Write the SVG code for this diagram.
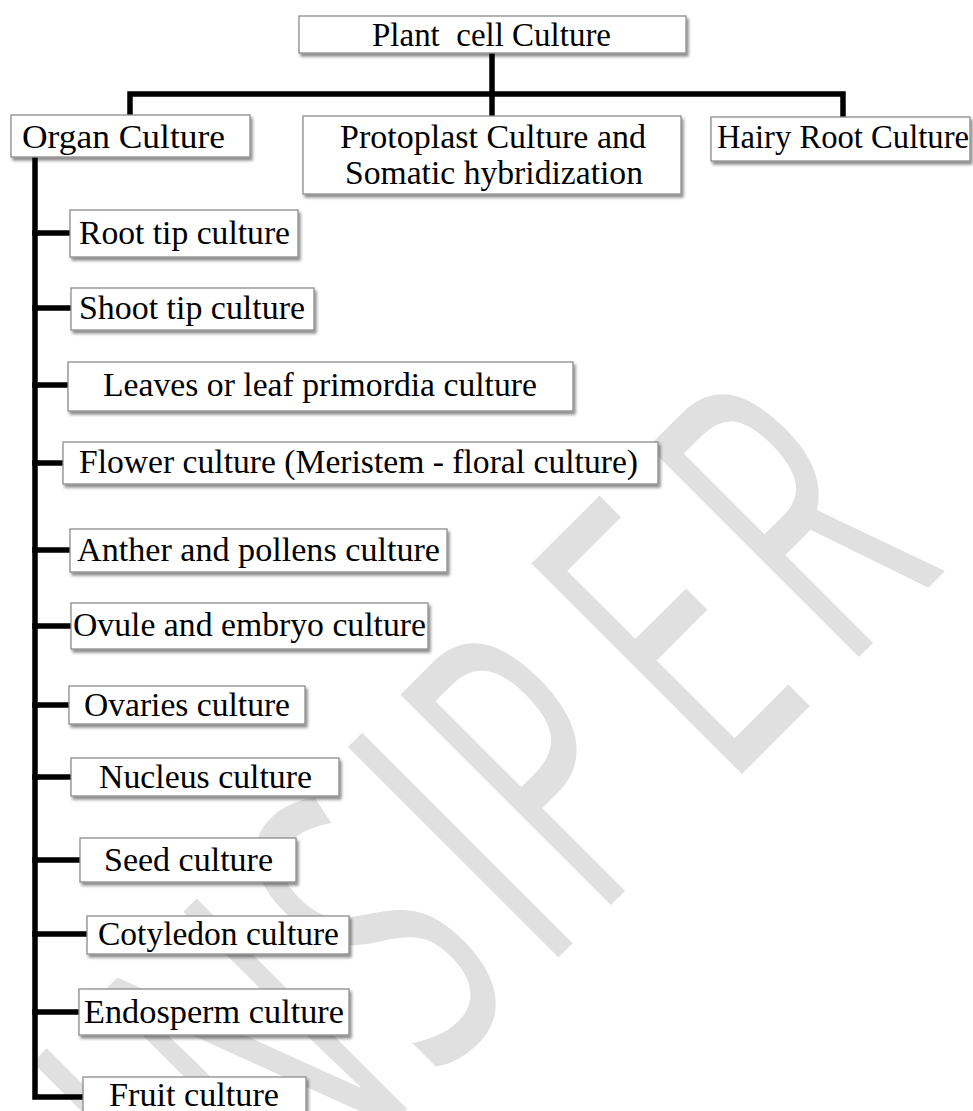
<svg xmlns="http://www.w3.org/2000/svg" width="973" height="1111" viewBox="0 0 973 1111">
  <defs>
    <filter id="shadow" x="-5%" y="-20%" width="115%" height="160%">
      <feDropShadow dx="2" dy="3" stdDeviation="1.6" flood-color="#000" flood-opacity="0.45"/>
    </filter>
  </defs>
  <style>
    .box { fill: #ffffff; stroke: #8c8c8c; stroke-width: 1.3; filter: url(#shadow); }
    .lbl { font-family: "Liberation Serif", "Times New Roman", serif; font-size: 33px; fill: #000; text-anchor: middle; }
    .wire { stroke: #000; stroke-width: 5.5; fill: none; stroke-linecap: square; }
    .mark { font-family: "Open Sans", "DejaVu Sans", sans-serif; font-size: 417px; fill: #e0e0e0; text-anchor: middle; }
  </style>

  <rect width="973" height="1111" fill="#ffffff"/>

  <!-- background watermark -->
  <g id="watermark" transform="rotate(-45)">
    <text class="mark" transform="scale(0.58,1)" x="-1238 -972 -676 -469 -274 36 334" y="1072">INSIPER</text>
  </g>

  <!-- connectors -->
  <g id="connectors">
    <path class="wire" d="M492 53 V94 M130 94 H843 M130 94 V115 M492 94 V116 M843 94 V117"/>
    <path class="wire" d="M35 157 V1097 H83" stroke-linecap="butt"/>
    <path class="wire" d="M35 233 H70 M35 308 H71 M35 385 H68 M35 463 H63 M35 550 H70 M35 626 H71 M35 705 H69 M35 777 H71 M35 860 H80 M35 934 H87 M35 1012 H79" stroke-linecap="butt"/>
  </g>

  <!-- top level -->
  <g id="plant-cell-culture">
    <rect class="box" x="299" y="16" width="387" height="37"/>
    <text class="lbl" x="491.5" y="46" textLength="239" lengthAdjust="spacingAndGlyphs" xml:space="preserve">Plant  cell Culture</text>
  </g>

  <g id="organ-culture">
    <rect class="box" x="11" y="115" width="239" height="42"/>
    <text class="lbl" x="123.5" y="148" textLength="203" lengthAdjust="spacingAndGlyphs">Organ Culture</text>
  </g>

  <g id="protoplast-culture">
    <rect class="box" x="303" y="116" width="378" height="78"/>
    <text class="lbl" x="493" y="148" textLength="306" lengthAdjust="spacingAndGlyphs">Protoplast Culture and</text>
    <text class="lbl" x="494" y="184" textLength="298" lengthAdjust="spacingAndGlyphs">Somatic hybridization</text>
  </g>

  <g id="hairy-root-culture">
    <rect class="box" x="711" y="117" width="259" height="44"/>
    <text class="lbl" x="843" y="148" textLength="252" lengthAdjust="spacingAndGlyphs">Hairy Root Culture</text>
  </g>

  <!-- organ culture types -->
  <g id="root-tip">
    <rect class="box" x="70" y="210" width="228" height="47"/>
    <text class="lbl" x="184.5" y="244" textLength="211" lengthAdjust="spacingAndGlyphs">Root tip culture</text>
  </g>
  <g id="shoot-tip">
    <rect class="box" x="71" y="288" width="243" height="42"/>
    <text class="lbl" x="192" y="319" textLength="226" lengthAdjust="spacingAndGlyphs">Shoot tip culture</text>
  </g>
  <g id="leaves">
    <rect class="box" x="68" y="362" width="505" height="49"/>
    <text class="lbl" x="320" y="396" textLength="434" lengthAdjust="spacingAndGlyphs">Leaves or leaf primordia culture</text>
  </g>
  <g id="flower">
    <rect class="box" x="63" y="442" width="595" height="42"/>
    <text class="lbl" x="358.5" y="473" textLength="559" lengthAdjust="spacingAndGlyphs">Flower culture (Meristem - floral culture)</text>
  </g>
  <g id="anther">
    <rect class="box" x="70" y="529" width="377" height="43"/>
    <text class="lbl" x="258.5" y="561" textLength="363" lengthAdjust="spacingAndGlyphs">Anther and pollens culture</text>
  </g>
  <g id="ovule">
    <rect class="box" x="71" y="603" width="357" height="46"/>
    <text class="lbl" x="249.5" y="636" textLength="353" lengthAdjust="spacingAndGlyphs">Ovule and embryo culture</text>
  </g>
  <g id="ovaries">
    <rect class="box" x="69" y="686" width="236" height="38"/>
    <text class="lbl" x="187" y="716" textLength="206" lengthAdjust="spacingAndGlyphs">Ovaries culture</text>
  </g>
  <g id="nucleus">
    <rect class="box" x="71" y="758" width="268" height="38"/>
    <text class="lbl" x="205.5" y="788" textLength="213" lengthAdjust="spacingAndGlyphs">Nucleus culture</text>
  </g>
  <g id="seed">
    <rect class="box" x="80" y="838" width="216" height="44"/>
    <text class="lbl" x="188.5" y="871" textLength="169" lengthAdjust="spacingAndGlyphs">Seed culture</text>
  </g>
  <g id="cotyledon">
    <rect class="box" x="87" y="916" width="262" height="38"/>
    <text class="lbl" x="218.5" y="945" textLength="241" lengthAdjust="spacingAndGlyphs">Cotyledon culture</text>
  </g>
  <g id="endosperm">
    <rect class="box" x="79" y="989" width="270" height="46"/>
    <text class="lbl" x="214" y="1023" textLength="260" lengthAdjust="spacingAndGlyphs">Endosperm culture</text>
  </g>
  <g id="fruit">
    <rect class="box" x="83" y="1077" width="223" height="45"/>
    <text class="lbl" x="194" y="1106" textLength="170" lengthAdjust="spacingAndGlyphs">Fruit culture</text>
  </g>
</svg>
